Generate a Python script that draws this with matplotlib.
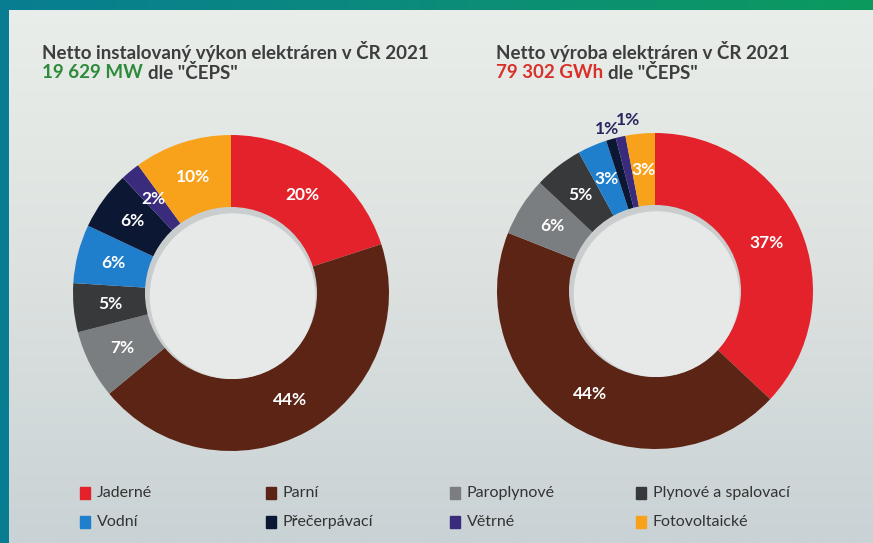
import numpy as np
import matplotlib.pyplot as plt
from matplotlib.colors import LinearSegmentedColormap

categories = ["Jaderné", "Parní", "Paroplynové", "Plynové a spalovací",
              "Vodní", "Přečerpávací", "Větrné", "Fotovoltaické"]
colors = ["#e3222b", "#5b2414", "#7b7e80", "#38393b",
          "#1f7fcc", "#0b1733", "#3a2b7c", "#f8a21c"]
power_pct = [20, 44, 7, 5, 6, 6, 2, 10]
energy_pct = [37, 44, 6, 5, 3, 1, 1, 3]

plt.rcParams["font.family"] = ["Lato", "DejaVu Sans"]

W, H = 873, 543
fig = plt.figure(figsize=(W / 100, H / 100), dpi=100)

# background gradient
bg = fig.add_axes([0, 0, 1, 1])
grad = np.linspace(0, 1, 256).reshape(-1, 1)
bg_cmap = LinearSegmentedColormap.from_list("bg", ["#c9d2d5", "#dde2e0", "#e9eeea"])
bg.imshow(grad, aspect="auto", cmap=bg_cmap, extent=[0, 1, 0, 1], origin="lower")
bg.set_xlim(0, 1)
bg.set_ylim(0, 1)
bg.axis("off")

# frame bands
top = fig.add_axes([0, 1 - 10 / H, 1, 10 / H])
hgrad = np.linspace(0, 1, 256).reshape(1, -1)
top.imshow(hgrad, aspect="auto",
           cmap=LinearSegmentedColormap.from_list("tb", ["#087d92", "#0b8c7a", "#0c9a5e"]))
top.axis("off")
left = fig.add_axes([0, 0, 9 / W, 1])
left.set_facecolor("#087d92")
left.set_xticks([])
left.set_yticks([])
for s in left.spines.values():
    s.set_visible(False)


def donut(cx, cy, r, values, outside):
    ax = fig.add_axes([(cx - r) / W, (H - cy - r) / H, 2 * r / W, 2 * r / H])
    wedges, _ = ax.pie(values, colors=colors, startangle=90, counterclock=False,
                       radius=1, wedgeprops=dict(width=0.46, edgecolor="none"))
    # soft inner shadow
    ax.add_patch(plt.Circle((0, 0), 0.54, color="#c9cdcd", zorder=3))
    ax.add_patch(plt.Circle((0.01, -0.02), 0.52, color="#e6e9e8", zorder=4))
    for w, v, i in zip(wedges, values, range(len(values))):
        ang = np.deg2rad((w.theta1 + w.theta2) / 2)
        if i in outside:
            rr, dx, dy = outside[i]
            ax.text(np.cos(ang) * rr + dx, np.sin(ang) * rr + dy, f"{v}%",
                    ha="center", va="center", fontsize=12.5, fontweight="bold",
                    color="#2a2560")
        else:
            ax.text(np.cos(ang) * 0.77, np.sin(ang) * 0.77, f"{v}%",
                    ha="center", va="center", fontsize=12.5, fontweight="bold",
                    color="white")
    ax.set_xlim(-1, 1)
    ax.set_ylim(-1, 1)
    ax.set_aspect("auto")
    ax.axis("off")


donut(231, 293, 158, power_pct, {})
donut(655, 291, 158, energy_pct, {5: (1.08, 0.0, -0.01), 6: (1.1, 0.07, 0.01)})

# titles
tc = "#3d3d3d"
fs = 13.5


def title(x, y1, line1, num, numcolor):
    fig.text(x / W, 1 - y1 / H, line1, fontsize=fs, fontweight="bold",
             color=tc, ha="left", va="center")
    t = fig.text(x / W, 1 - (y1 + 21) / H, num, fontsize=fs, fontweight="bold",
                 color=numcolor, ha="left", va="center")
    fig.canvas.draw()
    bb = t.get_window_extent()
    fig.text((bb.x1 + 5) / W, 1 - (y1 + 21) / H, 'dle "ČEPS"', fontsize=fs,
             fontweight="bold", color=tc, ha="left", va="center")


title(42, 52, "Netto instalovaný výkon elektráren v ČR 2021", "19 629 MW", "#2f8a3c")
title(496, 52, "Netto výroba elektráren v ČR 2021", "79 302 GWh", "#d8312a")

# legend
col_x = [85, 271, 455, 641]
row_y = [493, 522]
for i, (name, c) in enumerate(zip(categories, colors)):
    x = col_x[i % 4]
    y = row_y[i // 4]
    fig.patches.append(plt.Rectangle(((x - 5) / W, 1 - (y + 6) / H), 10 / W, 12 / H,
                                     transform=fig.transFigure, color=c))
    fig.text((x + 12) / W, 1 - y / H, name, fontsize=11.5, color="#333333",
             ha="left", va="center")

fig.savefig("out.png", dpi=100)
